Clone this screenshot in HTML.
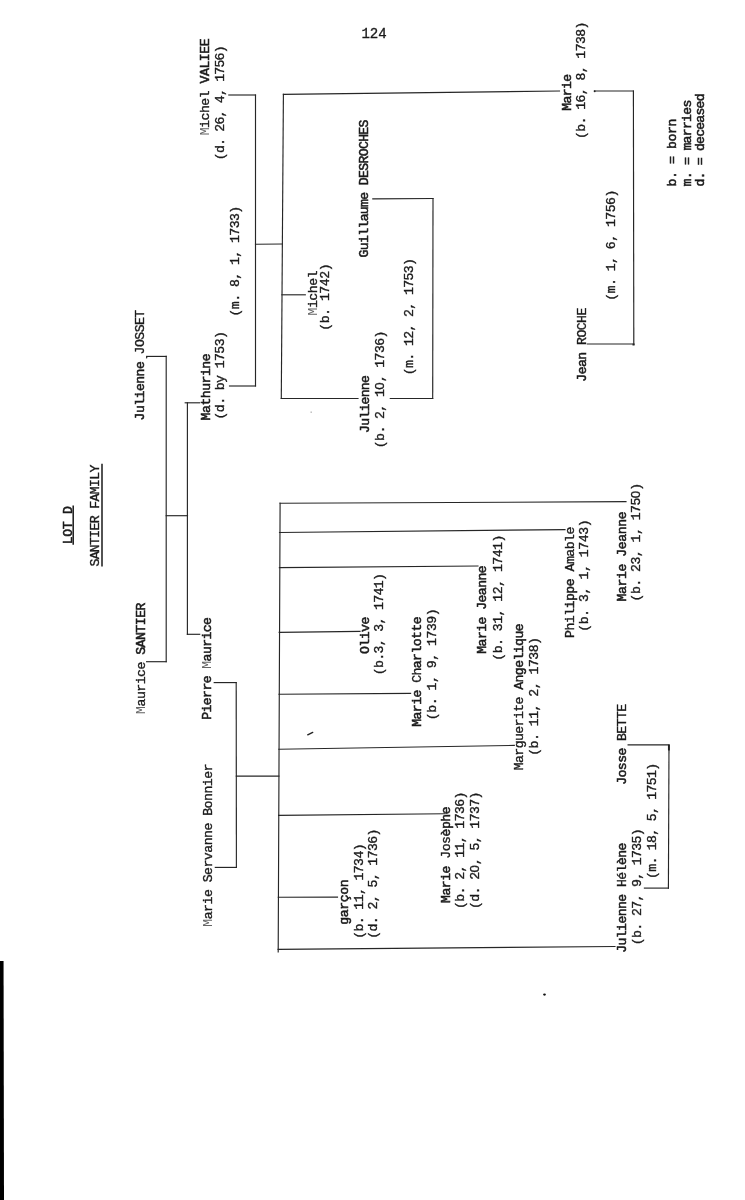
<!DOCTYPE html>
<html lang="en">
<head>
<meta charset="utf-8">
<title>Lot D - Santier Family</title>
<style>
html,body{margin:0;padding:0;background:#fff;}
body{width:745px;height:1200px;overflow:hidden;position:relative;}
svg{display:block;position:absolute;left:0;top:0;will-change:transform;}
text{font-family:"Liberation Mono","DejaVu Sans Mono",monospace;fill:#1a1a1a;stroke:#1a1a1a;stroke-width:0.35;white-space:pre;}
text.b,tspan.b{stroke-width:0.55;}
tspan.f{fill:#666;stroke:none;}
tspan.z{font-family:"Liberation Sans",sans-serif;}
.ln{stroke:#262626;stroke-width:1.15;fill:none;stroke-linecap:square;}
.ul{stroke:#1a1a1a;stroke-width:1.5;fill:none;}
</style>
</head>
<body>
<svg width="745" height="1200" viewBox="0 0 745 1200">
<rect x="0" y="0" width="745" height="1200" fill="#ffffff"/>
<polygon points="0,960.9 3.55,960.9 4,1200 0,1200" fill="#000"/>
<text x="361.5" y="37.8" font-size="14.1" letter-spacing="-0.12" style="stroke-width:0.3" xml:space="preserve">124</text>
<text transform="translate(209.46 135.30) rotate(-90) scale(1 1.00)" font-size="13.20" letter-spacing="-0.501" xml:space="preserve"><tspan class="f">M</tspan>ichel <tspan class="b">VALIEE</tspan></text>
<text transform="translate(223.80 160.20) rotate(-90) scale(1 1.00)" font-size="13.20" letter-spacing="-0.788" xml:space="preserve">(d. 26, 4, 1756)</text>
<text transform="translate(239.06 316.50) rotate(-90) scale(1 1.00)" font-size="13.20" letter-spacing="-0.568" xml:space="preserve">(m. 8, 1, 1733)</text>
<text transform="translate(317.20 315.50) rotate(-90) scale(1 1.00)" font-size="13.20" letter-spacing="-0.486" xml:space="preserve"><tspan class="f">M</tspan>ichel</text>
<text transform="translate(329.30 330.75) rotate(-90) scale(1 1.00)" font-size="13.20" letter-spacing="-0.489" xml:space="preserve">(b. 1742)</text>
<text transform="translate(368.34 257.50) rotate(-90) scale(1 1.00)" font-size="13.20" letter-spacing="-0.687" xml:space="preserve"><tspan class="b">Guillaume DESROCHES</tspan></text>
<text class="b" transform="translate(570.70 110.70) rotate(-90) scale(1 1.00)" font-size="13.20" letter-spacing="-0.704" xml:space="preserve">Marie</text>
<text transform="translate(585.44 139.00) rotate(-90) scale(1 1.00)" font-size="13.20" letter-spacing="-0.608" xml:space="preserve">(b. 16, 8, 1738)</text>
<text transform="translate(615.44 300.75) rotate(-90) scale(1 1.00)" font-size="13.20" letter-spacing="-0.541" xml:space="preserve">(m. 1, 6, 1756)</text>
<text transform="translate(586.20 381.70) rotate(-90) scale(1 1.00)" font-size="13.20" letter-spacing="-0.563" xml:space="preserve"><tspan class="b">Jean</tspan> ROCHE</text>
<text transform="translate(412.94 375.20) rotate(-90) scale(1 1.00)" font-size="13.20" letter-spacing="-0.629" xml:space="preserve">(m. 12, 2, 1753)</text>
<text transform="translate(144.08 420.40) rotate(-90) scale(1 1.00)" font-size="13.20" letter-spacing="-0.579" xml:space="preserve"><tspan class="b">Julienne</tspan> JOSSET</text>
<text transform="translate(209.96 420.40) rotate(-90) scale(1 1.00)" font-size="13.20" letter-spacing="-0.523" xml:space="preserve"><tspan class="b">Mathurine</tspan></text>
<text transform="translate(224.44 419.50) rotate(-90) scale(1 1.00)" font-size="13.20" letter-spacing="-0.595" xml:space="preserve">(d. by 1753)</text>
<text class="b" transform="translate(71.72 544.30) rotate(-90) scale(1 1.00)" font-size="13.20" letter-spacing="-0.356" xml:space="preserve">LOT D</text>
<text transform="translate(99.34 566.60) rotate(-90) scale(1 1.00)" font-size="13.20" letter-spacing="-0.677" xml:space="preserve">SANTIER FAMILY</text>
<text transform="translate(144.70 713.90) rotate(-90) scale(1 1.00)" font-size="13.20" letter-spacing="-0.527" xml:space="preserve"><tspan class="f">M</tspan>aurice <tspan class="b">SANTIER</tspan></text>
<text transform="translate(211.32 719.80) rotate(-90) scale(1 1.00)" font-size="13.20" letter-spacing="-0.615" xml:space="preserve"><tspan class="b">Pierre</tspan> <tspan class="f">M</tspan><tspan class="b">aurice</tspan></text>
<text transform="translate(212.08 926.70) rotate(-90) scale(1 1.00)" font-size="13.20" letter-spacing="-0.520" xml:space="preserve"><tspan class="f">M</tspan>arie Servanne Bonnier</text>
<text class="b" transform="translate(368.90 433.00) rotate(-90) scale(1 1.00)" font-size="13.20" letter-spacing="-0.784" xml:space="preserve">Julienne</text>
<text transform="translate(383.50 448.25) rotate(-90) scale(1 1.00)" font-size="13.20" letter-spacing="-0.594" xml:space="preserve">(b. 2, 1<tspan class="z" letter-spacing="-0.016">0</tspan>, 1736)</text>
<text class="b" transform="translate(369.46 654.00) rotate(-90) scale(1 1.00)" font-size="13.20" letter-spacing="-0.566" xml:space="preserve">Olive</text>
<text transform="translate(383.30 675.20) rotate(-90) scale(1 1.00)" font-size="13.20" letter-spacing="-0.659" xml:space="preserve">(b.3, 3, 1741)</text>
<text class="b" transform="translate(486.40 653.75) rotate(-90) scale(1 1.00)" font-size="13.20" letter-spacing="-0.590" xml:space="preserve">Marie Jeanne</text>
<text transform="translate(501.56 660.75) rotate(-90) scale(1 1.00)" font-size="13.20" letter-spacing="-0.527" xml:space="preserve">(b. 31, 12, 1741)</text>
<text transform="translate(574.00 638.00) rotate(-90) scale(1 1.00)" font-size="13.20" letter-spacing="-0.527" xml:space="preserve">Phil<tspan class="b">ippe</tspan> Amable</text>
<text transform="translate(588.30 631.80) rotate(-90) scale(1 1.00)" font-size="13.20" letter-spacing="-0.454" xml:space="preserve">(b. 3, 1, 1743)</text>
<text class="b" transform="translate(626.20 601.50) rotate(-90) scale(1 1.00)" font-size="13.20" letter-spacing="-0.437" xml:space="preserve">Marie Jeanne</text>
<text transform="translate(639.80 601.40) rotate(-90) scale(1 1.00)" font-size="13.20" letter-spacing="-0.541" xml:space="preserve">(b. 23, 1, 175<tspan class="z" letter-spacing="0.037">0</tspan>)</text>
<text transform="translate(420.70 726.80) rotate(-90) scale(1 1.00)" font-size="13.20" letter-spacing="-0.591" xml:space="preserve"><tspan class="b">Marie</tspan> Ch<tspan class="b">arlotte</tspan></text>
<text transform="translate(436.00 720.20) rotate(-90) scale(1 1.00)" font-size="13.20" letter-spacing="-0.488" xml:space="preserve">(b. 1, 9, 1739)</text>
<text transform="translate(522.90 770.30) rotate(-90) scale(1 1.00)" font-size="13.20" letter-spacing="-0.597" xml:space="preserve">Marguerite An<tspan class="b">gelique</tspan></text>
<text transform="translate(537.56 755.80) rotate(-90) scale(1 1.00)" font-size="13.20" letter-spacing="-0.523" xml:space="preserve">(b. 11, 2, 1738)</text>
<text class="b" transform="translate(347.80 924.75) rotate(-90) scale(1 1.00)" font-size="13.20" letter-spacing="-0.434" xml:space="preserve">garçon</text>
<text transform="translate(362.94 938.80) rotate(-90) scale(1 1.00)" font-size="13.20" letter-spacing="-0.624" xml:space="preserve">(b. 11, 1734)</text>
<text transform="translate(376.80 938.80) rotate(-90) scale(1 1.00)" font-size="13.20" letter-spacing="-0.598" xml:space="preserve">(d. 2, 5, 1736)</text>
<text transform="translate(449.70 903.00) rotate(-90) scale(1 1.00)" font-size="13.20" letter-spacing="-0.527" xml:space="preserve"><tspan class="b">Marie</tspan> Jos<tspan class="b">èphe</tspan></text>
<text transform="translate(464.30 909.00) rotate(-90) scale(1 1.00)" font-size="13.20" letter-spacing="-0.608" xml:space="preserve">(b. 2, 11, 1736)</text>
<text transform="translate(479.06 909.00) rotate(-90) scale(1 1.00)" font-size="13.20" letter-spacing="-0.608" xml:space="preserve">(d. 2<tspan class="z" letter-spacing="-0.030">0</tspan>, 5, 1737)</text>
<text transform="translate(626.40 784.75) rotate(-90) scale(1 1.00)" font-size="13.20" letter-spacing="-0.620" xml:space="preserve"><tspan class="b">Josse</tspan> BETTE</text>
<text transform="translate(626.20 952.80) rotate(-90) scale(1 1.00)" font-size="13.20" letter-spacing="-0.609" xml:space="preserve"><tspan class="b">Julienne</tspan> Hél<tspan class="b">ène</tspan></text>
<text transform="translate(641.00 945.20) rotate(-90) scale(1 1.00)" font-size="13.20" letter-spacing="-0.643" xml:space="preserve">(b. 27, 9, 1735)</text>
<text transform="translate(656.00 879.00) rotate(-90) scale(1 1.00)" font-size="13.20" letter-spacing="-0.703" xml:space="preserve">(m. 18, 5, 1751)</text>
<text class="b" transform="translate(675.84 186.50) rotate(-90) scale(1 1.00)" font-size="13.20" letter-spacing="-0.399" xml:space="preserve">b. = born</text>
<text class="b" transform="translate(690.58 186.40) rotate(-90) scale(1 1.00)" font-size="13.20" letter-spacing="-0.746" xml:space="preserve">m. = marries</text>
<text class="b" transform="translate(704.32 186.50) rotate(-90) scale(1 1.00)" font-size="13.20" letter-spacing="-0.819" xml:space="preserve">d. = deceased</text>
<line class="ul" x1="73.2" y1="505.6" x2="73.2" y2="544.7"/>
<line class="ul" x1="102" y1="463.7" x2="102" y2="566.5"/>
<line class="ln" x1="228.8" y1="95.0" x2="255.5" y2="95.0"/>
<line class="ln" x1="255.5" y1="95.0" x2="255.5" y2="386.0"/>
<line class="ln" x1="229.5" y1="386.0" x2="255.5" y2="386.0"/>
<line class="ln" x1="255.5" y1="244.2" x2="282.2" y2="244.0"/>
<line class="ln" x1="283.4" y1="94.4" x2="281.3" y2="398.5"/>
<line class="ln" x1="283.4" y1="94.4" x2="559.5" y2="91.0"/>
<line class="ln" x1="281.9" y1="294.8" x2="305.3" y2="294.8"/>
<line class="ln" x1="281.3" y1="398.5" x2="358.0" y2="398.5"/>
<line class="ln" x1="372.8" y1="198.8" x2="433.0" y2="198.5"/>
<line class="ln" x1="433.0" y1="198.5" x2="432.7" y2="398.5"/>
<line class="ln" x1="390.3" y1="398.5" x2="432.7" y2="398.5"/>
<line class="ln" x1="594.4" y1="91.0" x2="633.4" y2="91.0"/>
<line class="ln" x1="633.4" y1="91.0" x2="633.8" y2="344.0"/>
<line class="ln" x1="587.3" y1="344.0" x2="633.8" y2="344.0"/>
<line class="ln" x1="146.6" y1="356.4" x2="166.2" y2="356.4"/>
<line class="ln" x1="166.2" y1="356.4" x2="166.2" y2="661.7"/>
<line class="ln" x1="146.6" y1="661.7" x2="166.2" y2="661.7"/>
<line class="ln" x1="166.2" y1="515.7" x2="187.5" y2="515.7"/>
<line class="ln" x1="187.4" y1="402.8" x2="187.4" y2="634.3"/>
<line class="ln" x1="185.2" y1="402.8" x2="199.7" y2="402.8"/>
<line class="ln" x1="187.4" y1="634.3" x2="199.7" y2="634.3"/>
<line class="ln" x1="214.2" y1="682.6" x2="236.2" y2="682.6"/>
<line class="ln" x1="236.2" y1="682.6" x2="236.4" y2="867.4"/>
<line class="ln" x1="215.3" y1="867.4" x2="236.4" y2="867.4"/>
<line class="ln" x1="236.3" y1="776.1" x2="278.9" y2="776.1"/>
<line class="ln" x1="280.1" y1="503.2" x2="278.2" y2="952.0"/>
<line class="ln" x1="280.1" y1="503.2" x2="626.0" y2="501.7"/>
<line class="ln" x1="279.5" y1="532.5" x2="565.0" y2="529.6"/>
<line class="ln" x1="279.4" y1="567.6" x2="478.0" y2="566.0"/>
<line class="ln" x1="279.2" y1="632.3" x2="360.0" y2="631.4"/>
<line class="ln" x1="279.0" y1="694.2" x2="410.6" y2="693.4"/>
<line class="ln" x1="278.8" y1="749.2" x2="514.3" y2="745.4"/>
<line class="ln" x1="278.6" y1="815.4" x2="444.4" y2="813.8"/>
<line class="ln" x1="278.3" y1="897.2" x2="337.5" y2="897.1"/>
<line class="ln" x1="278.1" y1="949.3" x2="615.0" y2="946.5"/>
<line class="ln" x1="628.1" y1="744.8" x2="669.0" y2="744.8"/>
<line class="ln" x1="669.0" y1="744.8" x2="668.4" y2="888.1"/>
<line class="ln" x1="644.4" y1="888.1" x2="668.4" y2="888.1"/>
<ellipse cx="544.5" cy="994.6" rx="1.4" ry="1.05" fill="#111"/>
<line x1="307.7" y1="734.8" x2="312.7" y2="732.4" stroke="#222" stroke-width="1.4" stroke-linecap="round"/>
<rect x="310.6" y="411.6" width="1.1" height="1.1" fill="#888"/>
<circle cx="594.7" cy="91.2" r="0.95" fill="#222"/>
<line x1="146.9" y1="356.6" x2="146.5" y2="358.4" stroke="#222" stroke-width="1.2"/>
<line x1="668.9" y1="745" x2="668.9" y2="750.5" stroke="#222" stroke-width="1.9"/>
<line x1="632.5" y1="344.6" x2="634.6" y2="344.6" stroke="#222" stroke-width="1.8"/>
</svg>
</body>
</html>
